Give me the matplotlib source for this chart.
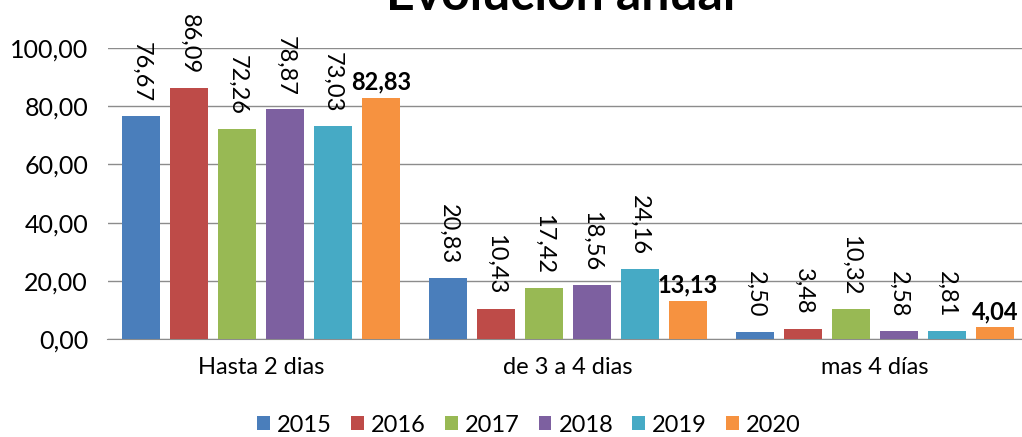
import matplotlib.pyplot as plt
import numpy as np

plt.rcParams['font.family'] = ['Lato', 'DejaVu Sans']

# data
categories = ['Hasta 2 dias', 'de 3 a 4 dias', 'mas 4 días']
years = ['2015', '2016', '2017', '2018', '2019', '2020']
v2015 = [76.67, 20.83, 2.50]
v2016 = [86.09, 10.43, 3.48]
v2017 = [72.26, 17.42, 10.32]
v2018 = [78.87, 18.56, 2.58]
v2019 = [73.03, 24.16, 2.81]
v2020 = [82.83, 13.13, 4.04]
series = [v2015, v2016, v2017, v2018, v2019, v2020]
colors = ['#4A7EBB', '#BE4B48', '#98B954', '#7D60A0', '#46AAC5', '#F69240']

def fmt(v):
    return f'{v:.2f}'.replace('.', ',')

fig = plt.figure(figsize=(10.22, 4.37), dpi=100)
ax = fig.add_axes([107.5 / 1022, 98 / 437, 921 / 1022, 291 / 437])

x = np.arange(len(categories))
w = 0.124
step = 0.156
for i, (vals, col, yr) in enumerate(zip(series, colors, years)):
    pos = x + (i - 2.5) * step
    ax.bar(pos, vals, width=w, color=col, label=yr, zorder=3)
    for p, v in zip(pos, vals):
        if yr == '2020':
            ax.annotate(fmt(v), (p, v), xytext=(0, 3), textcoords='offset points',
                        ha='center', va='bottom', fontsize=17, fontweight='bold')
        else:
            ax.annotate(fmt(v), (p, v), xytext=(0, 10), textcoords='offset points',
                        ha='center', va='bottom', rotation=-90, fontsize=17)

ax.set_xlim(-0.5, 2.5)
ax.set_ylim(0, 100)
ax.set_yticks(np.arange(0, 101, 20))
ax.set_yticklabels([fmt(t) for t in np.arange(0, 101, 20)], fontsize=18)
ax.set_xticks(x)
ax.set_xticklabels(categories, fontsize=17)
ax.tick_params(length=0)
ax.tick_params(axis='y', pad=14)
ax.tick_params(axis='x', pad=13)
ax.yaxis.grid(True, color='#8c8c8c', linewidth=1, zorder=0)
for s in ['top', 'right', 'left']:
    ax.spines[s].set_visible(False)
ax.spines['bottom'].set_color('#8c8c8c')

fig.legend(loc='center', bbox_to_anchor=(529 / 1022, 1 - 425 / 437), ncol=6, frameon=False,
           fontsize=17, handlelength=0.55, handleheight=0.55, handletextpad=0.3, columnspacing=0.8)

fig.text(561 / 1022, 1 - 10 / 437, 'Evolución anual', ha='center', va='baseline',
         fontsize=36, fontweight='bold')

fig.savefig('out.png', dpi=100)
